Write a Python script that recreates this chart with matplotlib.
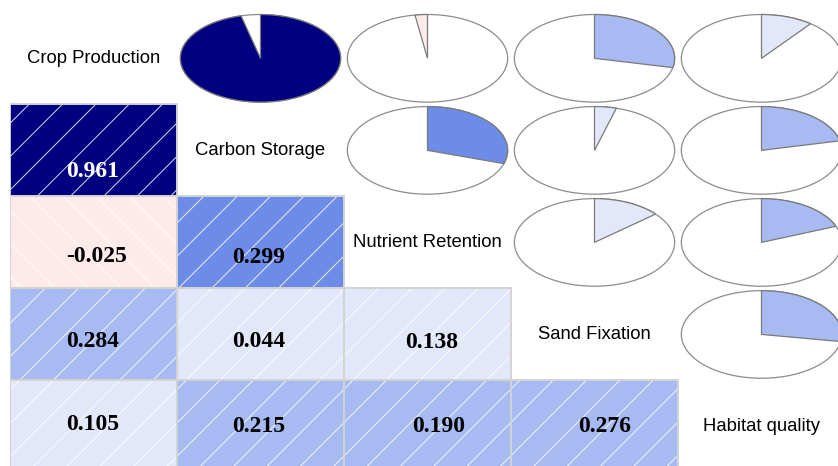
import numpy as np
import matplotlib
matplotlib.use("Agg")
import matplotlib.pyplot as plt
from matplotlib.patches import Rectangle, Wedge, Ellipse
from matplotlib.colors import LinearSegmentedColormap, BoundaryNorm
from matplotlib.transforms import Affine2D

# Ecosystem services and their pairwise correlation coefficients
services = ["Crop Production", "Carbon Storage", "Nutrient Retention",
            "Sand Fixation", "Habitat quality"]
corr = np.array([
    [1.000,  0.961, -0.025, 0.284, 0.105],
    [0.961,  1.000,  0.299, 0.044, 0.215],
    [-0.025, 0.299,  1.000, 0.138, 0.190],
    [0.284,  0.044,  0.138, 1.000, 0.276],
    [0.105,  0.215,  0.190, 0.276, 1.000],
])

# Text placement inside the shaded cells (fraction of a cell: left edge, baseline)
value_pos = {
    (1, 0): (0.335, 0.790),
    (2, 0): (0.334, 0.713), (2, 1): (0.328, 0.727),
    (3, 0): (0.334, 0.636), (3, 1): (0.328, 0.633), (3, 2): (0.365, 0.647),
    (4, 0): (0.334, 0.538), (4, 1): (0.328, 0.557), (4, 2): (0.405, 0.557),
    (4, 3): (0.403, 0.557),
}

# Binned diverging palette (14 classes over [-1, 1])
n_bins = 14
cmap = LinearSegmentedColormap.from_list(
    "rb", ["red", "salmon", "white", "royalblue", "navy"], N=n_bins)
norm = BoundaryNorm(np.linspace(-1, 1, n_bins + 1), n_bins)

plt.rcParams["hatch.linewidth"] = 0.7
W, H, DPI = 838, 466, 100
fig = plt.figure(figsize=(W / DPI, H / DPI), dpi=DPI)
fig.patch.set_facecolor("white")

n = len(services)
left_px, right_px, top_px, bottom_px = 10, 845, 12.3, 472.5
ax = fig.add_axes([left_px / W, (H - bottom_px) / H,
                   (right_px - left_px) / W, (bottom_px - top_px) / H])
ax.set_xlim(0, n)
ax.set_ylim(n, 0)
ax.axis("off")

for i in range(n):
    for j in range(n):
        r = corr[i, j]
        if i == j:
            ax.text(j + 0.5, i + 0.5, services[i], ha="center", va="center",
                    fontsize=13.3, family="Liberation Sans", color="black")
        elif i > j:
            col = cmap(norm(r))
            ax.add_patch(Rectangle((j, i), 1, 1, facecolor=col,
                                   edgecolor="none", lw=0))
            ax.add_patch(Rectangle((j, i), 1, 1, facecolor="none",
                                   edgecolor=(1, 1, 1, 0.85), lw=0,
                                   hatch="/" if r > 0 else "\\"))
            ax.add_patch(Rectangle((j, i), 1, 1, fill=False,
                                   edgecolor="#d3d3d3", lw=1.4))
            dx, dy = value_pos[(i, j)]
            ax.text(j + dx, i + dy, f"{r:.3f}", ha="left", va="baseline",
                    fontsize=17, fontweight="bold", family="Liberation Serif",
                    color="white" if r > 0.8 else "black")
        else:
            col = cmap(norm(r))
            cx, cy = j + 0.5, i + 0.5
            rx, ry = 0.48, 0.476
            ax.add_patch(Ellipse((cx, cy), 2 * rx, 2 * ry, facecolor="white",
                                 edgecolor="#8c8c8c", lw=0.9))
            # y axis runs downward, so flip the unit circle to keep 12 o'clock on top
            tr = Affine2D().scale(rx, -ry).translate(cx, cy) + ax.transData
            if r >= 0:
                t1, t2 = 90 - 360 * r, 90
            else:
                t1, t2 = 90, 90 - 360 * r
            ax.add_patch(Wedge((0, 0), 1, t1, t2, facecolor=col,
                               edgecolor="#7a7a7a", lw=0.9, transform=tr))

fig.savefig("out.png", dpi=DPI, facecolor="white")
